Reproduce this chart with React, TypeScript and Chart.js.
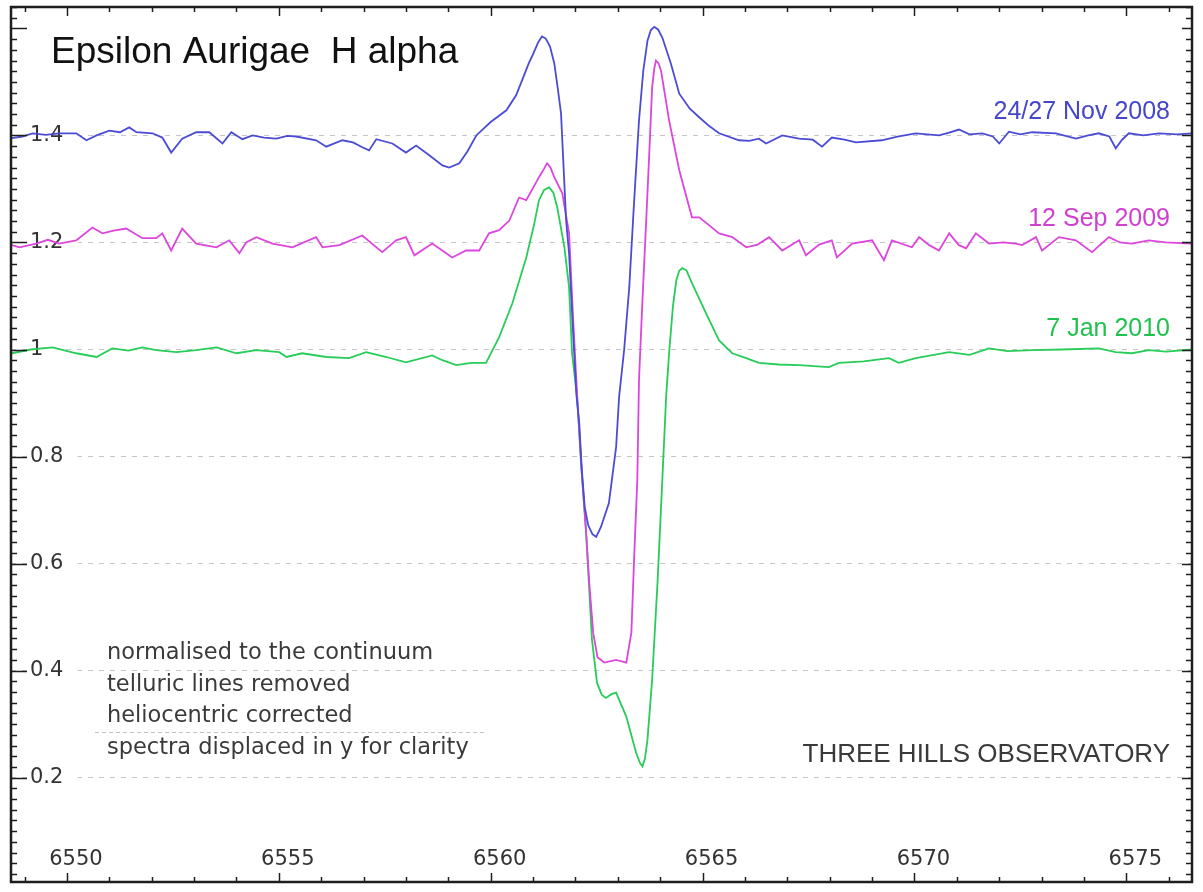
import React, { useEffect, useRef } from "react";
import { Chart, registerables } from "chart.js";

Chart.register(...registerables);

// Axis ticks: wavelength in Ångström, normalised flux
const waveTicks = [6550, 6555, 6560, 6565, 6570, 6575];
const fluxTicks = [0.2, 0.4, 0.6, 0.8, 1, 1.2, 1.4];

// 24/27 Nov 2008 spectrum, continuum displaced to 1.4
const nov2008Wave = [
  6548.7, 6548.95, 6549.19, 6549.5, 6549.82, 6550.22, 6550.46, 6550.7, 6551.0, 6551.25,
  6551.47, 6551.64, 6552.02, 6552.25, 6552.46, 6552.72, 6553.05, 6553.36, 6553.67, 6553.88,
  6554.14, 6554.38, 6554.65, 6554.94, 6555.2, 6555.41, 6555.88, 6556.12, 6556.5, 6556.75,
  6556.97, 6557.13, 6557.3, 6557.68, 6558.0, 6558.24, 6558.55, 6558.86, 6559.02, 6559.26,
  6559.45, 6559.66, 6560.0, 6560.37, 6560.6, 6560.74, 6560.9, 6561.0, 6561.12, 6561.21,
  6561.3, 6561.4, 6561.5, 6561.58, 6561.66, 6561.78, 6561.85, 6561.94, 6562.02, 6562.09,
  6562.15, 6562.22, 6562.3, 6562.4, 6562.49, 6562.6, 6562.79, 6562.96, 6563.03, 6563.15,
  6563.27, 6563.38, 6563.5, 6563.6, 6563.7, 6563.78, 6563.86, 6563.95, 6564.05, 6564.25,
  6564.45, 6564.7, 6564.92, 6565.15, 6565.39, 6565.86, 6566.1, 6566.33, 6566.5, 6566.88,
  6567.28, 6567.6, 6567.82, 6568.05, 6568.35, 6568.62, 6569.23, 6569.6, 6570.03, 6570.58,
  6570.8, 6571.05, 6571.3, 6571.6, 6571.85, 6572.0, 6572.23, 6572.5, 6572.78, 6573.34,
  6573.81, 6574.1, 6574.35, 6574.6, 6574.75, 6574.9, 6575.06, 6575.4, 6575.77, 6576.2,
  6576.55,
];
const nov2008Flux = [
  1.395, 1.398, 1.404, 1.401, 1.404, 1.404, 1.391, 1.4, 1.409, 1.406,
  1.415, 1.406, 1.404, 1.396, 1.368, 1.394, 1.406, 1.406, 1.385, 1.406,
  1.393, 1.4, 1.396, 1.394, 1.399, 1.398, 1.391, 1.379, 1.391, 1.387,
  1.378, 1.372, 1.393, 1.385, 1.368, 1.381, 1.363, 1.344, 1.34, 1.348,
  1.37, 1.4, 1.425, 1.447, 1.475, 1.503, 1.535, 1.552, 1.574, 1.585,
  1.581, 1.566, 1.535, 1.49, 1.441, 1.241, 1.179, 1.04, 0.918, 0.862,
  0.775, 0.705, 0.672, 0.655, 0.65, 0.668, 0.713, 0.818, 0.911, 1.0,
  1.116, 1.27, 1.428, 1.52, 1.577, 1.597, 1.603, 1.598, 1.583, 1.535,
  1.478, 1.45, 1.434, 1.418, 1.404, 1.391, 1.39, 1.394, 1.385, 1.4,
  1.394, 1.392, 1.379, 1.396, 1.392, 1.387, 1.391, 1.398, 1.404, 1.4,
  1.405, 1.411, 1.402, 1.404, 1.398, 1.385, 1.407, 1.402, 1.406, 1.404,
  1.394, 1.4, 1.404, 1.398, 1.376, 1.392, 1.404, 1.4, 1.404, 1.402,
  1.404,
];

// 12 Sep 2009 spectrum, continuum displaced to 1.2
const sep2009Wave = [
  6548.7, 6548.88, 6549.28, 6549.55, 6549.82, 6550.22, 6550.6, 6550.84, 6551.1, 6551.4,
  6551.78, 6552.11, 6552.25, 6552.46, 6552.72, 6553.05, 6553.53, 6553.83, 6554.07, 6554.23,
  6554.47, 6554.85, 6555.32, 6555.88, 6556.03, 6556.43, 6556.97, 6557.44, 6557.77, 6558.0,
  6558.2, 6558.62, 6558.95, 6559.09, 6559.42, 6559.73, 6559.96, 6560.2, 6560.44, 6560.67,
  6560.84, 6561.14, 6561.26, 6561.33, 6561.41, 6561.5, 6561.69, 6561.85, 6561.95, 6562.05,
  6562.15, 6562.25, 6562.33, 6562.42, 6562.52, 6562.68, 6562.96, 6563.2, 6563.32, 6563.39,
  6563.46, 6563.5, 6563.58, 6563.67, 6563.75, 6563.81, 6563.86, 6563.9, 6563.96, 6564.02,
  6564.21, 6564.45, 6564.75, 6564.92, 6565.16, 6565.39, 6565.7, 6566.03, 6566.3, 6566.57,
  6566.88, 6567.28, 6567.44, 6567.75, 6568.05, 6568.17, 6568.53, 6569.0, 6569.28, 6569.47,
  6569.94, 6570.11, 6570.35, 6570.58, 6570.82, 6571.05, 6571.22, 6571.45, 6571.76, 6572.1,
  6572.39, 6572.54, 6572.87, 6573.01, 6573.41, 6573.81, 6574.19, 6574.59, 6574.85, 6575.13,
  6575.53, 6575.93, 6576.55,
];
const sep2009Flux = [
  1.195, 1.191, 1.198, 1.205, 1.198, 1.204, 1.228, 1.217, 1.222, 1.226,
  1.208, 1.208, 1.217, 1.185, 1.226, 1.198, 1.191, 1.204, 1.18, 1.2,
  1.21, 1.198, 1.191, 1.21, 1.191, 1.195, 1.213, 1.182, 1.204, 1.21,
  1.176, 1.198, 1.18, 1.172, 1.185, 1.185, 1.217, 1.223, 1.241, 1.284,
  1.279, 1.322, 1.338, 1.348, 1.34, 1.322, 1.292, 1.217, 1.05, 0.9,
  0.77, 0.66, 0.56, 0.47, 0.425, 0.415, 0.42, 0.415, 0.471, 0.62,
  0.756, 0.943, 1.09, 1.241, 1.38, 1.49, 1.525, 1.54, 1.535, 1.521,
  1.428, 1.335, 1.247, 1.247, 1.232, 1.217, 1.21, 1.191, 1.196, 1.21,
  1.185, 1.204, 1.176, 1.196, 1.204, 1.172, 1.198, 1.204, 1.167, 1.204,
  1.191, 1.21, 1.195, 1.185, 1.217, 1.195, 1.189, 1.217, 1.198, 1.2,
  1.198, 1.195, 1.21, 1.185, 1.21, 1.204, 1.182, 1.21, 1.2, 1.198,
  1.204, 1.2, 1.198,
];

// 7 Jan 2010 spectrum, continuum at 1.0
const jan2010Wave = [
  6548.7, 6549.15, 6549.66, 6550.22, 6550.7, 6551.07, 6551.45, 6551.78, 6552.11, 6552.58,
  6553.05, 6553.53, 6554.0, 6554.47, 6555.01, 6555.18, 6555.55, 6556.12, 6556.66, 6557.06,
  6557.54, 6558.0, 6558.62, 6558.86, 6559.19, 6559.55, 6559.89, 6560.2, 6560.51, 6560.84,
  6561.02, 6561.14, 6561.26, 6561.38, 6561.48, 6561.57, 6561.74, 6561.85, 6561.92, 6562.04,
  6562.13, 6562.25, 6562.39, 6562.51, 6562.62, 6562.72, 6562.85, 6562.96, 6563.2, 6563.43,
  6563.52, 6563.58, 6563.64, 6563.7, 6563.81, 6563.94, 6564.05, 6564.14, 6564.21, 6564.3,
  6564.38, 6564.45, 6564.52, 6564.62, 6564.75, 6565.08, 6565.39, 6565.7, 6566.03, 6566.33,
  6566.8, 6567.28, 6567.98, 6568.22, 6568.8, 6569.4, 6569.63, 6570.03, 6570.82, 6571.3,
  6571.76, 6572.2, 6572.78, 6573.5, 6574.35, 6574.75, 6575.13, 6575.53, 6575.93, 6576.55,
];
const jan2010Flux = [
  0.993, 1.0, 1.004, 0.993, 0.986, 1.002, 0.998, 1.004, 0.999, 0.995,
  0.999, 1.004, 0.993, 0.999, 0.995, 0.986, 0.993, 0.986, 0.984, 0.995,
  0.986, 0.976, 0.989, 0.98, 0.971, 0.975, 0.975, 1.023, 1.086, 1.172,
  1.232, 1.279, 1.298, 1.303, 1.293, 1.266, 1.191, 1.116, 0.993, 0.911,
  0.79, 0.66, 0.458, 0.377, 0.355, 0.349, 0.356, 0.359, 0.314, 0.247,
  0.228, 0.221, 0.235, 0.271, 0.383, 0.569, 0.756, 0.911, 0.993, 1.08,
  1.129, 1.147, 1.152, 1.148, 1.124, 1.068, 1.017, 0.993, 0.984, 0.975,
  0.972, 0.971, 0.967, 0.975, 0.978, 0.984, 0.975, 0.984, 0.995, 0.99,
  1.002, 0.997, 0.999, 1.0, 1.002, 0.995, 0.993, 0.999, 0.996, 1.0,
];

const seriesLabels = ["24/27 Nov 2008", "12 Sep 2009", "7 Jan 2010"];
const seriesColors = ["#4b4bd6", "#dc46dc", "#28cc58"];
const labelColors = ["#4646c8", "#d040d0", "#1fc14f"];

const titleText = "Epsilon Aurigae  H alpha";
const noteLines = [
  "normalised to the continuum",
  "telluric lines removed",
  "heliocentric corrected",
  "spectra displaced in y for clarity",
];
const observatoryText = "THREE HILLS OBSERVATORY";

const toPoints = (wave: number[], flux: number[]) =>
  wave.map((x, i) => ({ x, y: flux[i] }));

const tickFontCss = "21px 'DejaVu Sans', sans-serif";

// Frame, inward tick marks, wavelength labels and text annotations
const decorations = {
  id: "decorations",
  afterDraw(chart: any) {
    const { ctx, chartArea: a, scales } = chart;
    const xs = scales.x;
    const ys = scales.y;
    ctx.save();

    // faint rule inside the notes block
    ctx.strokeStyle = "#c4c4c4";
    ctx.lineWidth = 1;
    ctx.setLineDash([4, 3]);
    ctx.beginPath();
    ctx.moveTo(a.left + 84, 732.5);
    ctx.lineTo(a.left + 476, 732.5);
    ctx.stroke();
    ctx.setLineDash([]);

    // tick marks pointing into the plot
    ctx.strokeStyle = "#1e1e1e";
    ctx.lineWidth = 1.5;
    ctx.beginPath();
    for (let w = 6549; w <= 6576; w++) {
      const px = Math.round(xs.getPixelForValue(w)) + 0.5;
      const len = w % 5 === 0 ? 9 : 5;
      ctx.moveTo(px, a.bottom);
      ctx.lineTo(px, a.bottom - len);
      ctx.moveTo(px, a.top);
      ctx.lineTo(px, a.top + len);
    }
    for (let i = 1; i <= 82; i++) {
      const py = Math.round(ys.getPixelForValue(i * 0.02)) + 0.5;
      const major = i % 10 === 0;
      ctx.moveTo(a.left, py);
      ctx.lineTo(a.left + (major ? 16 : 6), py);
      ctx.moveTo(a.right, py);
      ctx.lineTo(a.right - (major ? 10 : 6), py);
    }
    ctx.stroke();

    // frame
    ctx.lineWidth = 2.5;
    ctx.strokeRect(a.left, a.top, a.right - a.left, a.bottom - a.top);

    // wavelength labels inside the bottom of the plot
    ctx.fillStyle = "#333333";
    ctx.font = tickFontCss;
    ctx.textAlign = "center";
    ctx.textBaseline = "middle";
    waveTicks.forEach((w) => {
      ctx.fillText(String(w), xs.getPixelForValue(w) + 9, a.bottom - 22);
    });

    // title
    ctx.fillStyle = "#111111";
    ctx.textBaseline = "alphabetic";
    ctx.textAlign = "left";
    ctx.font = "37px 'Liberation Sans', Arial, sans-serif";
    ctx.fillText(titleText, a.left + 40, a.top + 56);

    // series labels
    ctx.textAlign = "right";
    ctx.font = "25px 'Liberation Sans', Arial, sans-serif";
    const labelBaselines = [119, 226, 336];
    seriesLabels.forEach((t, i) => {
      ctx.fillStyle = labelColors[i];
      ctx.fillText(t, a.right - 22, labelBaselines[i]);
    });

    // notes
    ctx.textAlign = "left";
    ctx.fillStyle = "#3a3a3a";
    ctx.font = "22.5px 'DejaVu Sans', sans-serif";
    noteLines.forEach((t, i) => {
      ctx.fillText(t, a.left + 96, 659 + i * 31.5);
    });

    // observatory
    ctx.textAlign = "right";
    ctx.font = "26px 'Liberation Sans', Arial, sans-serif";
    ctx.fillText(observatoryText, a.right - 22, 762);

    ctx.restore();
  },
};

export default function App() {
  const canvasRef = useRef<HTMLCanvasElement | null>(null);

  useEffect(() => {
    const canvas = canvasRef.current;
    if (!canvas) return;
    const tickFont = { family: "'DejaVu Sans', sans-serif", size: 21 };
    const zeroPadding = (s: any) => {
      s.paddingTop = 0;
      s.paddingBottom = 0;
      s.paddingLeft = 0;
      s.paddingRight = 0;
    };
    const chart = new Chart(canvas, {
      type: "line",
      data: {
        datasets: [
          {
            label: seriesLabels[0],
            data: toPoints(nov2008Wave, nov2008Flux),
            borderColor: seriesColors[0],
          },
          {
            label: seriesLabels[1],
            data: toPoints(sep2009Wave, sep2009Flux),
            borderColor: seriesColors[1],
          },
          {
            label: seriesLabels[2],
            data: toPoints(jan2010Wave, jan2010Flux),
            borderColor: seriesColors[2],
          },
        ],
      },
      options: {
        animation: false,
        responsive: false,
        events: [],
        layout: { padding: { left: 11, top: 7, right: 11, bottom: 10 } },
        elements: {
          line: { borderWidth: 1.8, tension: 0, fill: false },
          point: { radius: 0, hoverRadius: 0 },
        },
        plugins: {
          legend: { display: false },
          tooltip: { enabled: false },
          title: { display: false },
        },
        scales: {
          x: {
            type: "linear",
            min: 6548.68,
            max: 6576.55,
            grid: { display: false, drawTicks: false },
            border: { display: false },
            afterBuildTicks: (s: any) => {
              s.ticks = waveTicks.map((v) => ({ value: v }));
            },
            afterFit: (s: any) => {
              s.height = 0;
              zeroPadding(s);
            },
            ticks: { display: false },
          },
          y: {
            type: "linear",
            min: 0.005,
            max: 1.64,
            grid: { color: "#c6c6c6", lineWidth: 1, drawTicks: false },
            border: { display: false, dash: [5, 6] },
            afterBuildTicks: (s: any) => {
              s.ticks = fluxTicks.map((v) => ({ value: v }));
            },
            afterFit: (s: any) => {
              s.width = 0;
              zeroPadding(s);
            },
            ticks: {
              mirror: true,
              padding: 19,
              color: "#333333",
              font: tickFont,
              showLabelBackdrop: true,
              backdropColor: "#ffffff",
              backdropPadding: { top: 0, bottom: 0, left: 0, right: 14 },
              callback: (v: any) => String(v),
            },
          },
        },
      },
      plugins: [decorations],
    });
    return () => chart.destroy();
  }, []);

  return (
    <div
      style={{
        position: "fixed",
        left: 0,
        top: 0,
        width: 1203,
        height: 892,
        background: "#ffffff",
      }}
    >
      <canvas ref={canvasRef} width={1203} height={892} style={{ display: "block" }} />
    </div>
  );
}
